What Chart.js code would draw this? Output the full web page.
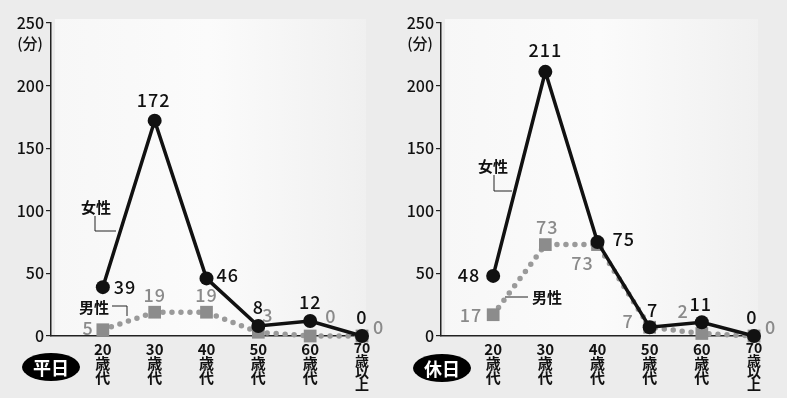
<!DOCTYPE html>
<html>
<head>
<meta charset="utf-8">
<script src="https://cdn.jsdelivr.net/npm/chart.js@4"></script>
<style>
  html, body { margin: 0; padding: 0; background: #ececec; }
  #wrap { position: relative; width: 787px; height: 398px; overflow: hidden; }
  .box { position: absolute; top: 0; height: 398px; }
</style>
</head>
<body>
<div id="wrap">
  <div class="box" style="left:0;width:393px"><canvas id="c1"></canvas></div>
  <div class="box" style="left:390px;width:397px"><canvas id="c2"></canvas></div>
</div>
<script>
// dados
var categorias = ['20歳代', '30歳代', '40歳代', '50歳代', '60歳代', '70歳以上'];
var yTicks = [0, 50, 100, 150, 200, 250];

var heijitsuJosei = [39, 172, 46, 8, 12, 0];
var heijitsuDansei = [5, 19, 19, 3, 0, 0];
var kyujitsuJosei = [48, 211, 75, 7, 11, 0];
var kyujitsuDansei = [17, 73, 73, 7, 2, 0];

// posicao dos rotulos [dx, dy, align]
var posHF = [[11, 0, 'left'], [-1, -20, 'center'], [10, -3, 'left'], [0, -19, 'center'], [0, -19, 'center'], [0, -19, 'center']];
var posHM = [[-9, -2, 'right'], [0, -17, 'center'], [0, -17, 'center'], [4, -17, 'left'], [15, -20, 'left'], [11, -9, 'left']];
var posKF = [[-13, -1, 'right'], [0, -22, 'center'], [15, -3, 'left'], [3, -17, 'center'], [-1, -18, 'center'], [-2, -19, 'center']];
var posKM = [[-11, 0, 'right'], [2, -17, 'center'], [-15, 19, 'center'], [-16, -6, 'right'], [-13, -22, 'right'], [11, -9, 'left']];

var FONT = "'Noto Sans CJK JP', 'Noto Sans', sans-serif";

function pts(arr) {
    return arr.map(function (v, i) { return { x: i + 1, y: v }; });
}

function splitLabel(s) {
    var m = s.match(/^(\d+)(.*)$/);
    return [m[1]].concat(m[2].split(''));
}

function makeChart(id, josei, dansei, posF, posM, extra) {
    var fundo = {
        id: 'fundo',
        beforeDraw: function (chart) {
            var ctx = chart.ctx, a = chart.chartArea;
            ctx.save();
            ctx.fillStyle = '#ececec';
            ctx.fillRect(0, 0, chart.width, chart.height);
            var g = ctx.createLinearGradient(a.left, 0, a.right + 5, 0);
            g.addColorStop(0, '#f7f7f7');
            g.addColorStop(0.5, '#fbfbfb');
            g.addColorStop(1, '#f0f0f0');
            ctx.fillStyle = g;
            ctx.fillRect(a.left + 4, a.top - 4, a.right - a.left, a.bottom - a.top + 4);
            ctx.restore();
        }
    };

    var rotulos = {
        id: 'rotulos',
        afterDatasetsDraw: function (chart) {
            var ctx = chart.ctx;
            ctx.save();
            ctx.textBaseline = 'middle';
            ctx.font = '500 18px ' + FONT;
            ctx.letterSpacing = '1px';
            [[0, posF, '#111'], [1, posM, '#8a8a8a']].forEach(function (d) {
                var meta = chart.getDatasetMeta(d[0]);
                var vals = chart.data.datasets[d[0]].data;
                meta.data.forEach(function (p, i) {
                    var o = d[1][i];
                    ctx.fillStyle = d[2];
                    ctx.textAlign = o[2];
                    ctx.fillText(String(vals[i].y), p.x + o[0], p.y + o[1]);
                });
            });
            ctx.letterSpacing = '0px';

            // unidade
            ctx.fillStyle = '#111';
            ctx.textAlign = 'center';
            ctx.font = '500 15px ' + FONT;
            ctx.fillText('(分)', 30, 43);

            // nomes das series
            ctx.font = 'bold 15px ' + FONT;
            ctx.fillText('女性', extra.fText[0], extra.fText[1]);
            ctx.fillText('男性', extra.mText[0], extra.mText[1]);
            ctx.strokeStyle = '#222';
            ctx.lineWidth = 1;
            [extra.fLine, extra.mLine].forEach(function (ln) {
                ctx.beginPath();
                ctx.moveTo(ln[0][0], ln[0][1]);
                for (var k = 1; k < ln.length; k++) ctx.lineTo(ln[k][0], ln[k][1]);
                ctx.stroke();
            });

            // selo
            ctx.fillStyle = '#000';
            ctx.beginPath();
            ctx.ellipse(extra.badge[0], extra.badge[1], 29, 14, 0, 0, Math.PI * 2);
            ctx.fill();
            ctx.fillStyle = '#fff';
            ctx.font = 'bold 18px ' + FONT;
            ctx.fillText(extra.badgeText, extra.badge[0], extra.badge[1] + 1);
            ctx.restore();
        }
    };

    return new Chart(document.getElementById(id), {
        type: 'line',
        data: {
            datasets: [{
                label: '女性',
                data: pts(josei),
                borderColor: '#111',
                backgroundColor: '#111',
                borderWidth: 3.5,
                pointStyle: 'circle',
                pointRadius: 7,
                pointBorderWidth: 0,
                tension: 0
            }, {
                label: '男性',
                data: pts(dansei),
                borderColor: '#9a9a9a',
                backgroundColor: '#8c8c8c',
                borderWidth: 5.5,
                borderDash: [0, 9],
                borderCapStyle: 'round',
                pointStyle: 'rect',
                pointRadius: 9,
                pointBorderWidth: 0,
                tension: 0
            }]
        },
        options: {
            responsive: true,
            maintainAspectRatio: false,
            animation: false,
            events: [],
            clip: false,
            layout: { padding: { top: 23, right: extra.padRight, left: 0, bottom: 0 } },
            plugins: { legend: { display: false }, tooltip: { enabled: false } },
            scales: {
                x: {
                    type: 'linear',
                    min: 0,
                    max: 6,
                    afterBuildTicks: function (s) {
                        s.ticks = categorias.map(function (c, i) { return { value: i + 1 }; });
                    },
                    afterFit: function (s) { s.height = 62; },
                    border: { display: true, color: '#222', width: 1.5 },
                    grid: { drawOnChartArea: false, drawTicks: false },
                    ticks: {
                        padding: 6,
                        maxRotation: 0,
                        autoSkip: false,
                        color: '#111',
                        font: function (c) {
                            return c.index === 5
                                ? { family: FONT, size: 14, weight: 'bold', lineHeight: 0.88 }
                                : { family: FONT, size: 15, weight: 'bold', lineHeight: 0.93 };
                        },
                        callback: function (v) { return splitLabel(categorias[v - 1]); }
                    }
                },
                y: {
                    min: 0,
                    max: 250,
                    afterBuildTicks: function (s) {
                        s.ticks = yTicks.map(function (v) { return { value: v }; });
                    },
                    afterFit: function (s) { s.width = 51; },
                    border: { display: true, color: '#222', width: 1.5 },
                    grid: { drawOnChartArea: false, drawTicks: true, tickLength: 5, color: '#222', lineWidth: 1.2 },
                    ticks: {
                        padding: 2,
                        color: '#111',
                        font: { family: FONT, size: 16, weight: '500' }
                    }
                }
            }
        },
        plugins: [fundo, rotulos]
    });
}

makeChart('c1', heijitsuJosei, heijitsuDansei, posHF, posHM, {
    padRight: 31,
    fText: [96, 207], fLine: [[95, 216], [95, 231], [116, 231]],
    mText: [94, 307], mLine: [[112, 306], [127, 306], [127, 316]],
    badge: [51, 367], badgeText: '平日'
});

makeChart('c2', kyujitsuJosei, kyujitsuDansei, posKF, posKM, {
    padRight: 33,
    fText: [103, 166], fLine: [[104, 175], [104, 191], [122, 191]],
    mText: [157, 297], mLine: [[115, 297], [138, 297]],
    badge: [52, 368], badgeText: '休日'
});
</script>
</body>
</html>
